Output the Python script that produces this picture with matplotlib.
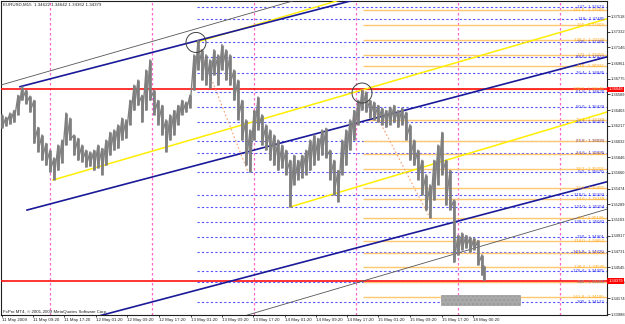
import matplotlib
matplotlib.use('Agg')
import matplotlib.pyplot as plt
import numpy as np
from matplotlib.patches import Ellipse, Rectangle
import matplotlib.transforms as mtransforms

FONT = ['Liberation Sans', 'DejaVu Sans']
FS = 3.2
FS_AX = 2.9

# ---------------- data ----------------
bar = list(range(2, 483, 4)) + [484]
high = [1.3635, 1.3632, 1.3637, 1.3640, 1.3658, 1.3668, 1.3664, 1.3657, 1.3652, 1.3620,
        1.3611, 1.3601, 1.3593, 1.3584, 1.3599, 1.3605, 1.3637, 1.3631, 1.3611, 1.3607,
        1.3599, 1.3593, 1.3591, 1.3593, 1.3599, 1.3595, 1.3605, 1.3614, 1.3617, 1.3623,
        1.3631, 1.3629, 1.3652, 1.3670, 1.3676, 1.3658, 1.3688, 1.3700, 1.3664, 1.3652,
        1.3646, 1.3629, 1.3635, 1.3640, 1.3646, 1.3652, 1.3650, 1.3658, 1.3706, 1.3723,
        1.3712, 1.3706, 1.3700, 1.3712, 1.3706, 1.3718, 1.3712, 1.3706, 1.3688, 1.3676,
        1.3652, 1.3629, 1.3617, 1.3640, 1.3656, 1.3635, 1.3623, 1.3617, 1.3611, 1.3605,
        1.3599, 1.3593, 1.3581, 1.3587, 1.3581, 1.3587, 1.3593, 1.3605, 1.3611, 1.3607,
        1.3617, 1.3619, 1.3593, 1.3581, 1.3569, 1.3605, 1.3617, 1.3629, 1.3640, 1.3652,
        1.3664, 1.3662, 1.3652, 1.3650, 1.3646, 1.3643, 1.3640, 1.3644, 1.3646, 1.3640,
        1.3643, 1.3638, 1.3623, 1.3605, 1.3593, 1.3581, 1.3564, 1.3552, 1.3581, 1.3599,
        1.3614, 1.3581, 1.3569, 1.3534, 1.3492, 1.3495, 1.3492, 1.3490, 1.3489, 1.3486,
        1.3469, 1.3456]
low = [1.3619, 1.3622, 1.3624, 1.3626, 1.3635, 1.3652, 1.3648, 1.3638, 1.3601, 1.3591,
       1.3581, 1.3575, 1.3567, 1.3558, 1.3569, 1.3578, 1.3599, 1.3605, 1.3587, 1.3581,
       1.3579, 1.3573, 1.3574, 1.3569, 1.3572, 1.3564, 1.3575, 1.3587, 1.3593, 1.3595,
       1.3605, 1.3607, 1.3623, 1.3640, 1.3646, 1.3626, 1.3640, 1.3652, 1.3635, 1.3623,
       1.3611, 1.3591, 1.3605, 1.3611, 1.3623, 1.3635, 1.3638, 1.3643, 1.3664, 1.3688,
       1.3676, 1.3670, 1.3667, 1.3682, 1.3670, 1.3688, 1.3676, 1.3670, 1.3652, 1.3629,
       1.3605, 1.3575, 1.3567, 1.3605, 1.3617, 1.3599, 1.3593, 1.3581, 1.3575, 1.3569,
       1.3572, 1.3564, 1.3526, 1.3552, 1.3558, 1.3560, 1.3564, 1.3569, 1.3575, 1.3581,
       1.3587, 1.3584, 1.3558, 1.3540, 1.3532, 1.3564, 1.3575, 1.3593, 1.3605, 1.3623,
       1.3640, 1.3638, 1.3631, 1.3629, 1.3626, 1.3623, 1.3620, 1.3623, 1.3626, 1.3620,
       1.3623, 1.3605, 1.3581, 1.3575, 1.3558, 1.3540, 1.3522, 1.3513, 1.3534, 1.3552,
       1.3564, 1.3528, 1.3522, 1.3460, 1.3469, 1.3475, 1.3477, 1.3472, 1.3475, 1.3457,
       1.3445, 1.3439]

ytick_prices = [1.37518, 1.37332, 1.37146, 1.36961, 1.36775, 1.36589, 1.36403, 1.36217,
                1.36032, 1.35846, 1.35660, 1.35474, 1.35289, 1.35103, 1.34917, 1.34731,
                1.34545, 1.34360, 1.34174, 1.33988]
ytick_labels = ['%.5f' % v for v in ytick_prices]

xtick_bars = [2, 33, 64, 96, 127, 159, 191, 222, 253, 285, 316, 347, 378, 410, 442, 473]
xtick_labels = ['11 May 2009', '11 May 09:20', '11 May 17:20', '12 May 01:20', '12 May 09:20',
                '12 May 17:20', '13 May 01:20', '13 May 09:20', '13 May 17:20', '14 May 01:20',
                '14 May 09:20', '14 May 17:20', '15 May 01:20', '15 May 09:20', '15 May 17:20',
                '18 May 00:20']
separators = [50, 152, 254, 356, 458, 560]

# trend lines: (bar, price) anchors
gray_upper = [(1, 1.36701), (200, 1.37380)]
gray_lower = [(245, 1.33968), (380, 1.34439)]
blue_upper = [(20, 1.36681), (200, 1.37234)]
blue_mid = [(27, 1.35220), (400, 1.36387)]
blue_low = [(100, 1.33969), (380, 1.34845)]
yellow_upper = [(53, 1.35576), (400, 1.36772)]
yellow_lower = [(290, 1.35256), (430, 1.35753)]
yellow_top = [(197, 1.37210), (265, 1.37447)]

red_levels = [1.36648, 1.34379]

blue_fib_start = 197
blue_fib_labels = ['127', '118', '100', '88.6', '76.4', '61.8', '50.0', '38.2', '23.6', '14.6',
                   '0.0', '118.0', '127.0', '138.2', '150', '161.8', '176.4', '185', '200']
blue_fib_prices = [1.37623, 1.37485, 1.37208, 1.37033, 1.36845, 1.36620, 1.36439, 1.36258,
                   1.36033, 1.35895, 1.35670, 1.35393, 1.35254, 1.35082, 1.34901, 1.34720,
                   1.34495, 1.34363, 1.34132]

orange_fib_start = 363
orange_fib_labels = ['161.8', '150', '138.2', '127', '118', '100.0', '76.4', '61.8', '50.0',
                     '38.2', '23.6', '14.6', '0.0', '118.0', '127.0', '138.2', '150', '161.8']
orange_fib_prices = [1.37589, 1.37409, 1.37229, 1.37059, 1.36922, 1.36648, 1.36289, 1.36032,
                     1.35887, 1.35707, 1.35485, 1.35348, 1.35126, 1.34852, 1.34715, 1.34545,
                     1.34365, 1.34185]

fib_trend_a = [(197, 1.37208), (248, 1.35670)]
fib_trend_b = [(363, 1.36648), (430, 1.35126)]

circles = [(196, 1.37205), (362, 1.36606)]
circle_w_bars = 20
circle_h_price = 0.00237

box_bars = (441, 520)
box_prices = (1.34095, 1.34213)

header = 'EURUSD,M15  1.34622 1.34642 1.34362 1.34379'
footer = 'FxPro MT4, \u00a9 2001-2009 MetaQuotes Software Corp.'

# ---------------- figure ----------------
W, H = 625, 324
fig = plt.figure(figsize=(W / 100, H / 100), dpi=100)
fig.patch.set_facecolor('white')
ax = fig.add_axes([1 / W, 9 / H, 606 / W, 314 / H])
ax.set_xlim(1, 607)
ax.set_ylim(1.33977, 1.37696)
ax.set_facecolor('white')

for s in ax.spines.values():
    s.set_color('#202020')
    s.set_linewidth(0.8)

# separators
for sx in separators:
    ax.axvline(sx, color='#ff66cc', lw=0.9, ls=(0, (2, 2)), zorder=1)

# fib levels
ax.hlines(blue_fib_prices, blue_fib_start, 607, colors='#5555ff', lw=0.8,
          linestyles=(0, (2, 2)), zorder=2)
ax.hlines(orange_fib_prices, orange_fib_start, 607, colors='#ffc870', lw=1.0, zorder=2)
for lab, p in zip(blue_fib_labels, blue_fib_prices):
    ax.text(604, p, '%s : %.5f' % (lab, p), color='#3333ee', fontsize=FS, family=FONT,
            ha='right', va='center', zorder=6)
for lab, p in zip(orange_fib_labels, orange_fib_prices):
    ax.text(604, p, '%s : %.5f' % (lab, p), color='#ffaa22', fontsize=FS, family=FONT,
            ha='right', va='center', zorder=6)

# red lines
for p in red_levels:
    ax.axhline(p, color='#ff1010', lw=1.2, zorder=3)


def ray(pts, **kw):
    (x1, y1), (x2, y2) = pts
    k = (y2 - y1) / (x2 - x1)
    ax.plot([x1, 700], [y1, y1 + k * (700 - x1)], **kw)


def full(pts, **kw):
    (x1, y1), (x2, y2) = pts
    k = (y2 - y1) / (x2 - x1)
    ax.plot([-100, 700], [y1 + k * (-100 - x1), y1 + k * (700 - x1)], **kw)


full(gray_upper, color='#555555', lw=0.6, zorder=4)
full(gray_lower, color='#555555', lw=0.6, zorder=4)
ray(yellow_top, color='#ffee00', lw=1.0, zorder=4)
ray(blue_upper, color='#1a1a99', lw=1.2, zorder=4)
ray(blue_mid, color='#1a1a99', lw=1.2, zorder=4)
full(blue_low, color='#1a1a99', lw=1.2, zorder=4)
ray(yellow_upper, color='#ffee00', lw=1.1, zorder=4)
ray(yellow_lower, color='#ffee00', lw=1.1, zorder=4)

# fib trend lines
for t in (fib_trend_a, fib_trend_b):
    ax.plot([t[0][0], t[1][0]], [t[0][1], t[1][1]], color='#f4a070', lw=0.8,
            ls=(0, (1.5, 2)), zorder=4)

# price bars
bx = np.array(bar)
hi = np.array(high)
lo = np.array(low)
ax.vlines(bx, lo, hi, color='#7a7a7a', lw=1.9, zorder=5)
zx = np.repeat(bx, 2)
zy = np.empty(2 * len(bx))
zy[0::2] = hi
zy[1::2] = lo
ax.plot(zx, zy, color='#808080', lw=1.0, zorder=5)

# circles
for cx, cy in circles:
    ax.add_patch(Ellipse((cx, cy), circle_w_bars, circle_h_price, fill=False,
                         ec='#404040', lw=0.7, zorder=6))

# gray box
ax.add_patch(Rectangle((box_bars[0], box_prices[0]), box_bars[1] - box_bars[0],
                       box_prices[1] - box_prices[0], fc='#a9a9a9', ec='#999999',
                       hatch='....', lw=0.5, zorder=6))

# axes ticks
ax.yaxis.tick_right()
ax.set_yticks(ytick_prices)
ax.set_yticklabels(ytick_labels, fontsize=FS_AX, family=FONT)
ax.tick_params(axis='y', length=2.0, width=0.6, pad=0.6, colors='#202020')
ax.set_xticks(xtick_bars)
ax.set_xticklabels(xtick_labels, fontsize=FS, family=FONT)
for t in ax.get_xticklabels():
    t.set_ha('left')
ax.tick_params(axis='x', length=1.5, width=0.6, pad=0.3, colors='#202020')

# red price labels on axis
trans = mtransforms.blended_transform_factory(ax.transAxes, ax.transData)
for p in red_levels:
    ax.text(1.002, p, '%.5f' % p, transform=trans, fontsize=FS_AX, family=FONT,
            color='white', ha='left', va='center', zorder=10, clip_on=False,
            bbox=dict(boxstyle='square,pad=0.2', fc='#ff0000', ec='none'))

fig.text(3 / W, 1 - 5 / H, header, fontsize=FS, family=FONT, color='#202020',
         ha='left', va='center')
fig.text(3 / W, 1 - 312 / H, footer, fontsize=FS, family=FONT, color='#202020',
         ha='left', va='center')

fig.savefig('out.png', dpi=100, facecolor='white')
